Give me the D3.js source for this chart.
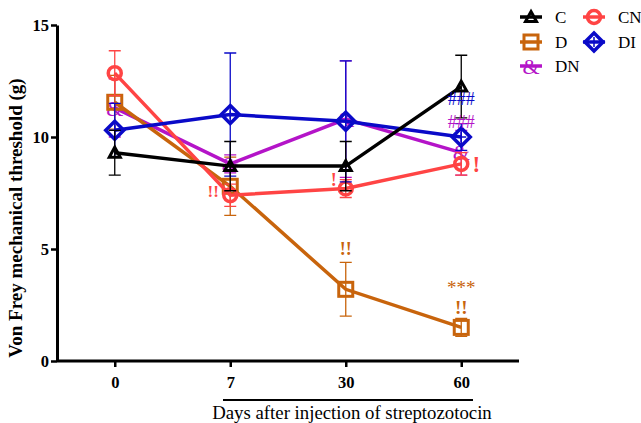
<!DOCTYPE html>
<html>
<head>
<meta charset="utf-8">
<script src="https://cdn.jsdelivr.net/npm/d3@7"></script>
<style>
  body { margin: 0; background: #fff; }
  svg { display: block; font-family: "Liberation Serif", "Times New Roman", serif; }
</style>
</head>
<body>
<svg id="chart" width="641" height="423"></svg>
<script>
// data
const days = ["0", "7", "30", "60"];
const groups = ["C", "CN", "D", "DI", "DN"];
const colors = ["#000000", "#ff4444", "#c8640c", "#0a0ac8", "#b414c8"];
const cMean = [9.3, 8.7, 8.7, 12.25];
const cErr = [1.0, 1.1, 1.1, 1.4];
const cnMean = [12.85, 7.4, 7.7, 8.8];
const cnErr = [1.0, 0.5, 0.4, 0.5];
const dMean = [11.55, 7.8, 3.2, 1.5];
const dErr = [1.2, 1.3, 1.2, 0.4];
const diMean = [10.3, 11.0, 10.7, 10.0];
const diErr = [1.2, 2.75, 2.7, 0.6];
const dnMean = [11.3, 8.8, 10.8, 9.3];
const dnErr = [1.3, 0.4, 2.6, 1.0];
const yTicks = [0, 5, 10, 15];

// significance marks: text, day, value, group index
const marks = [
  { t: "!!", day: "7", v: 7.3, g: 1 },
  { t: "!", day: "30", v: 7.8, g: 1 },
  { t: "!", day: "60", v: 8.45, g: 1 },
  { t: "!!", day: "30", v: 4.75, g: 2 },
  { t: "***", day: "60", v: 3.0, g: 2 },
  { t: "!!", day: "60", v: 2.1, g: 2 },
  { t: "###", day: "60", v: 11.45, g: 3 },
  { t: "###", day: "60", v: 10.4, g: 4 }
];
// how each mark is drawn: x shift and font size
const markStyle = [
  { dx: -17, size: 17 },
  { dx: -12, size: 18 },
  { dx: 15, size: 23 },
  { dx: 0, size: 18 },
  { dx: 0, size: 19 },
  { dx: 0, size: 19 },
  { dx: 0, size: 18 },
  { dx: 0, size: 18 }
];

const means = [cMean, cnMean, dMean, diMean, dnMean];
const errs = [cErr, cnErr, dErr, diErr, dnErr];
const series = groups.map((name, i) => ({
  name,
  color: colors[i],
  points: days.map((d, j) => ({ day: d, m: means[i][j], e: errs[i][j] }))
}));

const svg = d3.select("#chart");
const plotLeft = 57, plotRight = 519, plotTop = 25, plotBottom = 361;

const x = d3.scalePoint().domain(days).range([plotLeft, plotRight]).padding(0.5);
const y = d3.scaleLinear().domain([0, 15]).range([plotBottom, plotTop]);

// axes
const yAxis = svg.append("g")
  .attr("transform", `translate(${plotLeft},0)`)
  .call(d3.axisLeft(y).tickValues(yTicks).tickSize(6).tickSizeOuter(0));
const xAxis = svg.append("g")
  .attr("transform", `translate(0,${plotBottom})`)
  .call(d3.axisBottom(x).tickSize(6).tickSizeOuter(0));
[yAxis, xAxis].forEach(a => {
  a.select(".domain").attr("stroke", "#000").attr("stroke-width", 3);
  a.selectAll(".tick line").attr("stroke", "#000").attr("stroke-width", 2.5);
  a.selectAll(".tick text")
    .attr("font-family", "Liberation Serif")
    .attr("font-weight", "bold")
    .attr("font-size", 16.5)
    .attr("fill", "#000");
});
yAxis.selectAll(".tick text").attr("x", -8).attr("dy", "0.36em");
xAxis.selectAll(".tick text").attr("y", 15);
xAxis.select(".domain").attr("d", `M${plotLeft},0H${plotRight}`);

svg.append("text")
  .attr("transform", `translate(22,${(plotTop + plotBottom) / 2 + 25}) rotate(-90)`)
  .attr("text-anchor", "middle")
  .attr("font-weight", "bold")
  .attr("font-size", 19)
  .text("Von Frey mechanical threshold (g)");

svg.append("line")
  .attr("x1", 223).attr("x2", 473)
  .attr("y1", 400).attr("y2", 400)
  .attr("stroke", "#000").attr("stroke-width", 2);
svg.append("text")
  .attr("x", 352).attr("y", 419)
  .attr("text-anchor", "middle")
  .attr("font-size", 18.8)
  .text("Days after injection of streptozotocin");

// markers
function drawMarker(g, name, color) {
  if (name === "C") {
    g.append("path").attr("d", "M0,-5.5L5.5,4.5H-5.5Z")
      .attr("fill", "none").attr("stroke", color).attr("stroke-width", 3);
  } else if (name === "CN") {
    g.append("circle").attr("r", 6.5)
      .attr("fill", "none").attr("stroke", color).attr("stroke-width", 3.5);
  } else if (name === "D") {
    g.append("rect").attr("x", -7).attr("y", -7).attr("width", 14).attr("height", 14)
      .attr("fill", "none").attr("stroke", color).attr("stroke-width", 3);
  } else if (name === "DI") {
    g.append("path").attr("d", "M0,-9L9,0L0,9L-9,0Z")
      .attr("fill", "none").attr("stroke", color).attr("stroke-width", 3.5);
    g.append("path").attr("d", "M-5,0H5M0,-5V5")
      .attr("stroke", color).attr("stroke-width", 1.5);
  } else {
    g.append("text").attr("text-anchor", "middle").attr("dy", "0.35em")
      .attr("font-size", 22).attr("fill", color).text("&");
  }
}

const line = d3.line().x(d => x(d.day)).y(d => y(d.m));
const order = ["DN", "D", "CN", "DI", "C"];

order.forEach(name => {
  const s = series.find(d => d.name === name);
  const g = svg.append("g");
  g.selectAll(".err")
    .data(s.points)
    .enter()
    .append("path")
    .attr("d", d => {
      const cx = x(d.day), y0 = y(d.m - d.e), y1 = y(d.m + d.e);
      return `M${cx},${y0}V${y1}M${cx - 6},${y0}H${cx + 6}M${cx - 6},${y1}H${cx + 6}`;
    })
    .attr("fill", "none").attr("stroke", s.color).attr("stroke-width", 1.3);
  g.append("path").datum(s.points)
    .attr("d", line)
    .attr("fill", "none").attr("stroke", s.color).attr("stroke-width", 3.5);
  s.points.forEach(p => {
    const m = g.append("g").attr("transform", `translate(${x(p.day)},${y(p.m)})`);
    drawMarker(m, s.name, s.color);
  });
});

// significance marks
svg.selectAll(".mark")
  .data(marks)
  .enter()
  .append("text")
  .attr("x", (d, i) => x(d.day) + markStyle[i].dx)
  .attr("y", d => y(d.v))
  .attr("text-anchor", "middle")
  .attr("font-size", (d, i) => markStyle[i].size)
  .attr("font-weight", d => d.t[0] === "!" ? "bold" : "normal")
  .attr("fill", d => colors[d.g])
  .text(d => d.t);

// legend
const legendPos = [[520, 17], [583, 17], [520, 42], [583, 42], [520, 66]];
series.forEach((s, i) => {
  const [lx, ly] = legendPos[i];
  const g = svg.append("g").attr("transform", `translate(${lx},${ly})`);
  g.append("line").attr("x1", 0).attr("x2", 22)
    .attr("stroke", s.color).attr("stroke-width", 3.5);
  const m = g.append("g").attr("transform", "translate(11,0)");
  drawMarker(m, s.name, s.color);
  g.append("text").attr("x", 35).attr("dy", "0.35em")
    .attr("font-size", 17).text(s.name);
});
</script>
</body>
</html>
